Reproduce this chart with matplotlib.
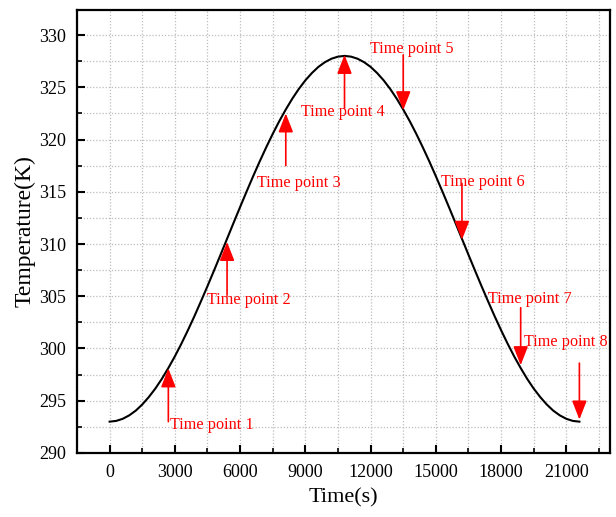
import matplotlib
matplotlib.use("Agg")
import matplotlib.pyplot as plt
from matplotlib.ticker import MultipleLocator

plt.rcParams['font.family'] = ['Liberation Serif', 'DejaVu Serif']

# Curve (time in s, temperature in K)
time_s = [0, 300, 600, 900, 1200, 1500, 1800, 2100, 2400, 2700, 3000, 3300,
          3600, 3900, 4200, 4500, 4800, 5100, 5400, 5700, 6000, 6300, 6600,
          6900, 7200, 7500, 7800, 8100, 8400, 8700, 9000, 9300, 9600, 9900,
          10200, 10500, 10800, 11100, 11400, 11700, 12000, 12300, 12600,
          12900, 13200, 13500, 13800, 14100, 14400, 14700, 15000, 15300,
          15600, 15900, 16200, 16500, 16800, 17100, 17400, 17700, 18000,
          18300, 18600, 18900, 19200, 19500, 19800, 20100, 20400, 20700,
          21000, 21300, 21600]
temp_k = [293.0, 293.07, 293.27, 293.6, 294.05, 294.64, 295.35, 296.16,
          297.09, 298.13, 299.25, 300.46, 301.75, 303.1, 304.52, 305.97,
          307.46, 308.97, 310.5, 312.03, 313.54, 315.03, 316.49, 317.9,
          319.25, 320.54, 321.75, 322.87, 323.91, 324.84, 325.66, 326.36,
          326.95, 327.4, 327.73, 327.93, 328.0, 327.93, 327.73, 327.4,
          326.95, 326.36, 325.66, 324.84, 323.91, 322.87, 321.75, 320.54,
          319.25, 317.9, 316.49, 315.03, 313.54, 312.03, 310.5, 308.97,
          307.46, 305.97, 304.52, 303.1, 301.75, 300.46, 299.25, 298.13,
          297.09, 296.16, 295.35, 294.64, 294.05, 293.6, 293.27, 293.07, 293.0]

# Annotations: label, arrow x, arrow tail T, arrow tip T, text x, text y
labels = ["Time point 1", "Time point 2", "Time point 3", "Time point 4",
          "Time point 5", "Time point 6", "Time point 7", "Time point 8"]
arrow_x = [2700, 5400, 8100, 10800, 13500, 16200, 18900, 21600]
arrow_tail = [293.0, 305.1, 317.5, 323.0, 328.1, 315.8, 303.9, 298.6]
arrow_tip = [298.1, 310.2, 322.5, 328.1, 322.8, 310.4, 298.4, 293.2]
text_x = [2770, 4500, 6760, 8790, 11950, 15250, 17400, 19050]
text_y = [292.7, 304.6, 315.8, 322.6, 328.7, 315.9, 304.7, 300.6]

x_ticks = [0, 3000, 6000, 9000, 12000, 15000, 18000, 21000]
y_ticks = [290, 295, 300, 305, 310, 315, 320, 325, 330]

fig = plt.figure(figsize=(6.16, 5.17), dpi=100)
ax = fig.add_axes([0.125, 0.1238, 0.865, 0.857])

ax.plot(time_s, temp_k, color='black', lw=1.5, zorder=3)

for lab, ax_x, t0, t1, tx, ty in zip(labels, arrow_x, arrow_tail, arrow_tip, text_x, text_y):
    ax.annotate('', xy=(ax_x, t1), xytext=(ax_x, t0),
                arrowprops=dict(arrowstyle='-|>,head_length=1.15,head_width=0.45',
                                color='red', lw=1.2, shrinkA=0, shrinkB=0,
                                mutation_scale=10), zorder=4)
    ax.text(tx, ty, lab, color='red', fontsize=11.7, ha='left', va='center', zorder=5)

ax.set_xlim(-1500, 23000)
ax.set_ylim(290, 332.4)
ax.set_xticks(x_ticks)
ax.set_yticks(y_ticks)
ax.xaxis.set_minor_locator(MultipleLocator(1500))
ax.yaxis.set_minor_locator(MultipleLocator(2.5))

ax.grid(True, which='both', color='#bdbdbd', linestyle=(0, (1, 1.5)), lw=0.9)
ax.set_axisbelow(True)

ax.tick_params(axis='both', which='major', direction='in', length=6, width=1.5,
               labelsize=13, top=False, right=False, pad=8)
ax.tick_params(axis='both', which='minor', direction='in', length=3.5, width=1.2,
               top=False, right=False)
for s in ax.spines.values():
    s.set_linewidth(1.6)

ax.set_xlabel('Time(s)', fontsize=16, labelpad=5)
ax.set_ylabel('Temperature(K)', fontsize=17, labelpad=2)

fig.savefig('out.png', dpi=100)
